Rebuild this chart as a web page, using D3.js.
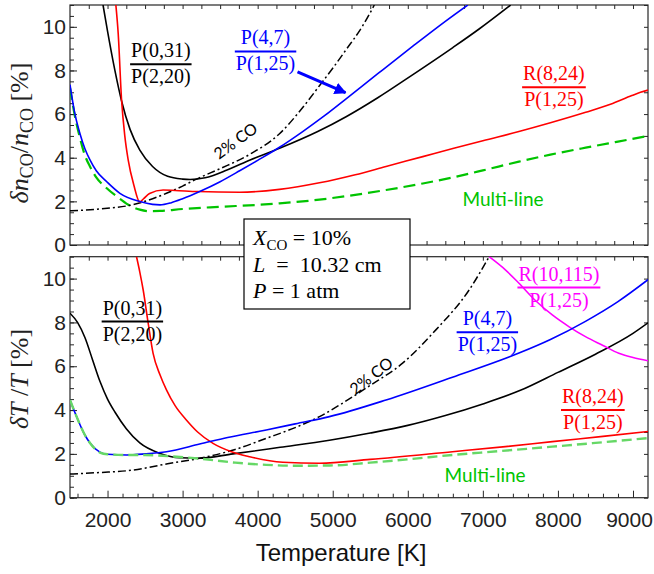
<!DOCTYPE html>
<html><head><meta charset="utf-8">
<script src="https://cdn.jsdelivr.net/npm/d3@7"></script>
<style>body{margin:0;background:#fff}svg{display:block}</style>
</head><body><svg id="c" width="654" height="574"></svg>
<script>
// ---------------- data ----------------
const xMajorTicks = [2000,3000,4000,5000,6000,7000,8000,9000];
const yMajorTicks = [0,2,4,6,8,10];

// Top panel: delta n_CO / n_CO [%]  ([T, value])
const topP0_31 = [[1940,11],[2000,9.8],[2098,8.0],[2187,6.6],[2300,5.3],[2430,4.35],[2600,3.6],[2800,3.15],[3000,3.02],[3100,3.0],[3300,3.08],[3600,3.45],[3900,3.9],[4291,4.43],[4800,5.2],[5178,5.88],[5600,6.75],[6063,7.8],[6600,9.05],[6950,9.9],[7370,11]];
const topP4_7 = [[1500,7.35],[1560,6.1],[1633,5.1],[1700,4.4],[1766,3.9],[1850,3.4],[1990,2.9],[2165,2.37],[2430,1.99],[2600,1.86],[2700,1.84],[2850,1.94],[3000,2.12],[3228,2.45],[3500,2.9],[3760,3.4],[4000,3.88],[4291,4.48],[4600,5.2],[4900,5.95],[5178,6.7],[5600,7.85],[6063,9.1],[6500,10.25],[6800,11]];
const topR8_24 = [[2111,11],[2142,9.7],[2187,6.65],[2230,5.0],[2275,3.9],[2350,2.75],[2430,1.97],[2480,2.12],[2560,2.36],[2740,2.52],[2900,2.5],[3200,2.45],[3760,2.42],[4291,2.55],[4823,2.85],[5300,3.22],[5710,3.6],[6200,4.05],[6600,4.42],[7000,4.78],[7480,5.2],[7900,5.6],[8370,6.08],[8700,6.45],[8985,6.85],[9100,7.0],[9200,7.1]];
const topMulti = [[1500,7.2],[1560,6.0],[1633,4.9],[1700,4.1],[1766,3.6],[1850,3.1],[1990,2.6],[2165,2.12],[2300,1.8],[2430,1.62],[2560,1.55],[2700,1.56],[3000,1.65],[3500,1.75],[4000,1.84],[4291,1.91],[4823,2.08],[5300,2.3],[5710,2.52],[6200,2.82],[6600,3.1],[7000,3.42],[7480,3.82],[7900,4.14],[8370,4.46],[8800,4.74],[9200,5.0]];
const top2CO = [[1500,1.57],[1900,1.65],[2341,1.85],[2785,2.37],[3000,2.7],[3184,3.02],[3500,3.5],[3893,4.15],[4291,5.1],[4600,6.3],[4823,7.3],[5000,8.1],[5178,8.95],[5400,10.05],[5554,11]];

// Bottom panel: delta T / T [%]
const botP0_31 = [[1500,8.42],[1600,8.0],[1700,7.3],[1800,6.3],[1900,5.3],[2000,4.5],[2100,3.9],[2250,3.15],[2430,2.5],[2700,2.02],[2962,1.82],[3200,1.8],[3671,2.0],[4300,2.3],[4956,2.62],[5500,2.95],[6000,3.3],[6500,3.75],[7000,4.28],[7500,4.9],[8000,5.72],[8500,6.55],[9000,7.5],[9200,7.98]];
const botP4_7 = [[1500,4.46],[1588,3.7],[1700,2.85],[1766,2.5],[1899,2.08],[2000,1.98],[2254,1.95],[2500,2.0],[2785,2.1],[3228,2.45],[3600,2.75],[4114,3.09],[4500,3.37],[4956,3.7],[5710,4.46],[6595,5.5],[7481,6.6],[7900,7.22],[8367,8.05],[8800,8.95],[9200,9.95]];
const botR8_24 = [[2386,11],[2430,10.3],[2475,9.48],[2540,8.0],[2607,6.59],[2700,5.6],[2785,4.92],[2900,4.2],[3050,3.55],[3200,3.0],[3405,2.48],[3650,2.1],[3893,1.87],[4335,1.62],[4823,1.57],[5500,1.75],[6595,2.1],[7300,2.33],[7925,2.56],[8600,2.8],[9200,3.02]];
const botR10_115 = [[7083,11],[7300,10.4],[7481,9.79],[7700,9.0],[7925,8.34],[8150,7.8],[8367,7.35],[8600,6.95],[8811,6.59],[9000,6.4],[9200,6.25]];
const botMulti = [[1500,4.46],[1588,3.7],[1700,2.85],[1766,2.5],[1899,2.06],[2000,1.98],[2254,1.95],[2500,1.95],[2800,1.9],[3228,1.78],[3700,1.6],[4114,1.5],[4500,1.46],[4956,1.47],[5500,1.6],[6000,1.75],[6595,1.95],[7200,2.12],[7925,2.33],[8500,2.5],[9200,2.72]];
const bot2CO = [[1500,1.08],[1900,1.15],[2341,1.26],[2800,1.55],[3228,1.8],[3700,2.2],[4114,2.71],[4500,3.2],[4823,3.7],[5100,4.25],[5488,5.1],[5931,6.14],[6374,7.66],[6817,9.48],[7083,11]];

const legendLines = ["X|CO| = 10%", "L|| = 10.32 cm", "P|| = 1 atm"];

// ---------------- layout ----------------
const svg = d3.select("#c");
const L = 70, R = 648;
const x = d3.scaleLinear().domain([1500,9200]).range([L,R]);
const yTop = d3.scaleLinear().domain([0,11]).range([245,5]);
const yBot = d3.scaleLinear().domain([0,11]).range([497.7,256.7]);
const axisColor = "#262626";
const tickFont = "Liberation Sans, Arial, sans-serif";
const serif = "Liberation Serif, Times New Roman, serif";
const sans2 = "Lato, Open Sans, sans-serif";

const defs = svg.append("defs");
[["clipTop",yTop],["clipBot",yBot]].forEach(([id,y])=>{
  defs.append("clipPath").attr("id",id).append("rect")
    .attr("x",L).attr("y",y.range()[1]).attr("width",R-L).attr("height",y.range()[0]-y.range()[1]);
});
defs.append("marker").attr("id","arrow").attr("viewBox","0 0 10 10").attr("refX",9).attr("refY",5)
  .attr("markerWidth",4).attr("markerHeight",4).attr("orient","auto").attr("markerUnits","strokeWidth")
  .append("path").attr("d","M0,0L10,5L0,10z").attr("fill","#0000ff");

function drawPanel(y, bottomLabels){
  const g = svg.append("g");
  const y0 = y.range()[0], y1 = y.range()[1];
  const clean = sel => { sel.select(".domain").remove(); sel.selectAll("line").attr("stroke",axisColor); };
  g.append("g").attr("transform",`translate(${L},0)`)
    .call(d3.axisLeft(y).tickValues(d3.range(0,11.01,0.5)).tickSize(-4).tickFormat("")).call(clean);
  g.append("g").attr("transform",`translate(${L},0)`)
    .call(d3.axisLeft(y).tickValues(yMajorTicks).tickSize(-7).tickPadding(4)).call(clean)
    .selectAll("text").attr("font-family",tickFont).attr("font-size",21).attr("fill","#222");
  g.append("g").attr("transform",`translate(${R},0)`)
    .call(d3.axisRight(y).tickValues(d3.range(0,11.01,1)).tickSize(-4).tickFormat("")).call(clean);
  g.append("g").attr("transform",`translate(0,${y1})`)
    .call(d3.axisTop(x).tickValues(d3.range(1750,9200,250)).tickSize(-4).tickFormat("")).call(clean);
  if(!bottomLabels){
    g.append("g").attr("transform",`translate(0,${y0})`)
      .call(d3.axisBottom(x).tickValues(d3.range(1750,9200,250)).tickSize(-4).tickFormat("")).call(clean);
  } else {
    g.append("g").attr("transform",`translate(0,${y0})`)
      .call(d3.axisBottom(x).tickValues(d3.range(1600,9200,200).filter(v=>v%1000)).tickSize(-4).tickFormat("")).call(clean);
    const ax = g.append("g").attr("transform",`translate(0,${y0})`)
      .call(d3.axisBottom(x).tickValues(xMajorTicks).tickSize(-7).tickPadding(14).tickFormat(d3.format("d"))).call(clean);
    ax.selectAll("text").attr("font-family",tickFont).attr("font-size",21).attr("fill","#222")
      .attr("dx", d => d === 9000 ? -4 : 0);
  }
  g.append("rect").attr("x",L).attr("y",y1).attr("width",R-L).attr("height",y0-y1)
    .attr("fill","none").attr("stroke",axisColor).attr("stroke-width",1.2);
  return g;
}

function drawCurve(g, data, y, clip, color, width, dash){
  const line = d3.line().x(d=>x(d[0])).y(d=>y(d[1])).curve(d3.curveMonotoneX);
  g.append("path").attr("d",line(data)).attr("clip-path",`url(#${clip})`)
    .attr("fill","none").attr("stroke",color).attr("stroke-width",width)
    .attr("stroke-dasharray",dash||null).attr("stroke-linejoin","round");
}

function fraction(g, T, v, y, num, den, color){
  const cx = x(T), cy = y(v);
  const t1 = g.append("text").attr("x",cx).attr("y",cy-7).attr("text-anchor","middle")
    .attr("font-family",serif).attr("font-size",20).attr("fill",color).text(num);
  const t2 = g.append("text").attr("x",cx).attr("y",cy+19).attr("text-anchor","middle")
    .attr("font-family",serif).attr("font-size",20).attr("fill",color).text(den);
  const w = Math.max(t1.node().getComputedTextLength(), t2.node().getComputedTextLength()) + 2;
  g.append("line").attr("x1",cx-w/2).attr("x2",cx+w/2).attr("y1",cy).attr("y2",cy)
    .attr("stroke",color).attr("stroke-width",2);
}

function rotLabel(g, T, v, y, angle, text, color, size){
  g.append("text").attr("transform",`translate(${x(T)},${y(v)}) rotate(${angle})`)
    .attr("text-anchor","middle").attr("dy","0.35em")
    .attr("font-family",sans2).attr("font-size",size).attr("fill",color).text(text);
}

const gTop = drawPanel(yTop,false);
const gBot = drawPanel(yBot,true);

const green = "#00c400", greenLight = "#66d866";
drawCurve(gTop, topMulti, yTop, "clipTop", green, 2.2, "12,6");
drawCurve(gTop, top2CO, yTop, "clipTop", "#000", 1.5, "8,3,2,3");
drawCurve(gTop, topP0_31, yTop, "clipTop", "#000", 1.6);
drawCurve(gTop, topR8_24, yTop, "clipTop", "#ff0000", 1.6);
drawCurve(gTop, topP4_7, yTop, "clipTop", "#0000ff", 1.6);
drawCurve(gBot, bot2CO, yBot, "clipBot", "#000", 1.5, "8,3,2,3");
drawCurve(gBot, botP0_31, yBot, "clipBot", "#000", 1.6);
drawCurve(gBot, botR8_24, yBot, "clipBot", "#ff0000", 1.6);
drawCurve(gBot, botR10_115, yBot, "clipBot", "#ff00ff", 1.6);
drawCurve(gBot, botP4_7, yBot, "clipBot", "#0000ff", 1.6);
drawCurve(gBot, botMulti, yBot, "clipBot", greenLight, 2.4, "10,5");

fraction(gTop, 2710, 8.29, yTop, "P(0,31)", "P(2,20)", "#000");
fraction(gTop, 4105, 8.87, yTop, "P(4,7)", "P(1,25)", "#0000ff");
fraction(gTop, 7947, 7.23, yTop, "R(8,24)", "P(1,25)", "#ff0000");
gTop.append("line").attr("x1",x(4531)).attr("y1",yTop(7.94)).attr("x2",x(5170)).attr("y2",yTop(6.98))
  .attr("stroke","#0000ff").attr("stroke-width",3).attr("marker-end","url(#arrow)");
gTop.append("text").attr("x",x(7269)).attr("y",yTop(2.1)).attr("dy","0.35em").attr("text-anchor","middle")
  .attr("font-family",sans2).attr("font-size",19).attr("fill",green).text("Multi-line");
rotLabel(gTop, 3707, 4.77, yTop, -36, "2% CO", "#000", 16);

fraction(gBot, 2331, 8.04, yBot, "P(0,31)", "P(2,20)", "#000");
fraction(gBot, 7060, 7.55, yBot, "P(4,7)", "P(1,25)", "#0000ff");
fraction(gBot, 8013, 9.59, yBot, "R(10,115)", "P(1,25)", "#ff00ff");
fraction(gBot, 8465, 4.0, yBot, "R(8,24)", "P(1,25)", "#ff0000");
gBot.append("text").attr("x",x(7030)).attr("y",yBot(1.04)).attr("dy","0.35em").attr("text-anchor","middle")
  .attr("font-family",sans2).attr("font-size",19).attr("fill",green).text("Multi-line");
rotLabel(gBot, 5514, 5.56, yBot, -38, "2% CO", "#000", 16);

const box = svg.append("g");
box.append("rect").attr("x",244).attr("y",219).attr("width",166).attr("height",90)
  .attr("fill","#fff").attr("stroke","#000").attr("stroke-width",1.2);
const baselines = [245, 271.5, 297.5];
legendLines.forEach((s,i)=>{
  const [v, sub, rest] = s.split("|");
  const t = box.append("text").attr("x",253).attr("y",baselines[i])
    .attr("font-family",serif).attr("font-size",22).attr("fill","#000").style("white-space","pre");
  t.append("tspan").attr("font-style","italic").text(v);
  if(sub){
    t.append("tspan").attr("font-size",15).attr("dy",5).text(sub);
    t.append("tspan").attr("dy",-5).text(rest);
  } else t.append("tspan").text(rest.replace(" = ", i===1?"  =  ":" = "));
});

const yt1 = svg.append("text").attr("transform","translate(28,133) rotate(-90)").attr("text-anchor","middle")
  .attr("font-family",serif).attr("font-size",26).attr("fill","#222").style("white-space","pre");
yt1.append("tspan").attr("font-style","italic").text("δn");
yt1.append("tspan").attr("font-size",18).attr("dy",5).text("CO");
yt1.append("tspan").attr("dy",-5).text("/");
yt1.append("tspan").attr("font-style","italic").text("n");
yt1.append("tspan").attr("font-size",18).attr("dy",5).text("CO");
yt1.append("tspan").attr("dy",-5).text(" [%]");

const yt2 = svg.append("text").attr("transform","translate(28,379) rotate(-90)").attr("text-anchor","middle")
  .attr("font-family",serif).attr("font-size",26).attr("fill","#222").style("white-space","pre");
yt2.append("tspan").attr("font-style","italic").text("δT");
yt2.append("tspan").text(" /");
yt2.append("tspan").attr("font-style","italic").text("T");
yt2.append("tspan").text(" [%]");

svg.append("text").attr("x",341).attr("y",561).attr("text-anchor","middle")
  .attr("font-family",tickFont).attr("font-size",24).attr("fill","#111").text("Temperature [K]");
</script></body></html>
